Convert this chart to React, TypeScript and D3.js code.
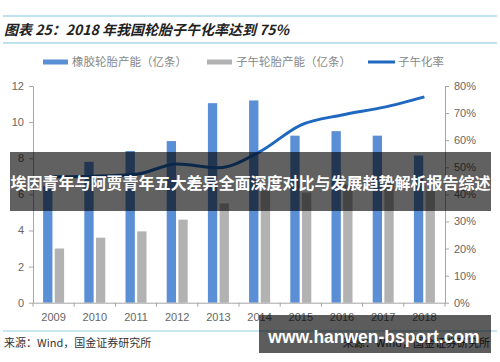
import React, { useEffect, useRef } from "react";
import * as d3 from "d3";

const years = ["2009", "2010", "2011", "2012", "2013", "2014", "2015", "2016", "2017", "2018"];
const capacity = [6.45, 7.8, 8.4, 8.95, 11.05, 11.2, 9.25, 9.5, 9.25, 8.15];
const radialCapacity = [3.0, 3.6, 3.95, 4.6, 5.5, 6.2, 6.1, 6.55, 6.7, 6.2];
const radialRate = [0.465, 0.467, 0.474, 0.512, 0.498, 0.557, 0.656, 0.693, 0.721, 0.76];
const leftTicks = [0, 2, 4, 6, 8, 10, 12];
const rightTicks = [0, 0.1, 0.2, 0.3, 0.4, 0.5, 0.6, 0.7, 0.8];
const legendLabels = ["橡胶轮胎产能（亿条）", "子午轮胎产能（亿条）", "子午化率"];

const App: React.FC = () => {
  const svgRef = useRef<SVGSVGElement>(null);

  useEffect(() => {
    const svg = d3.select(svgRef.current);
    svg.selectAll("*").remove();

    const left = 33;
    const right = 445;
    const top = 86;
    const bottom = 302.7;
    const axisColor = "#a6a6a6";
    const labelColor = "#666";
    const font = "'Liberation Sans', Arial, sans-serif";
    const cjk = "'Noto Sans CJK SC', sans-serif";

    svg.append("rect").attr("width", 500).attr("height", 362).attr("fill", "#fff");

    // 标题 + 上下两条线
    svg.append("line").attr("x1", 3).attr("x2", 497).attr("y1", 16).attr("y2", 16)
      .attr("stroke", "#7fc8dd").attr("stroke-width", 1.2);
    svg.append("line").attr("x1", 3).attr("x2", 497).attr("y1", 43).attr("y2", 43)
      .attr("stroke", "#7fc8dd").attr("stroke-width", 1.2);
    svg.append("text")
      .text("图表 25：2018 年我国轮胎子午化率达到 75%")
      .attr("x", 4).attr("y", 34.5)
      .attr("font-family", cjk).attr("font-size", 14).attr("font-weight", "bold")
      .attr("font-style", "italic").attr("fill", "#222");

    const x = d3.scaleBand().domain(years).range([left, right]);
    const sub = d3.scaleBand().domain(["a", "b"]).range([-10.5, 10.5]).paddingInner(0.2);
    const y = d3.scaleLinear().domain([0, 12]).range([bottom, top]);
    const yr = d3.scaleLinear().domain([0, 0.8]).range([bottom, top]);
    const cx = (d: string) => (x(d) || 0) + x.bandwidth() / 2;

    // 柱子
    years.forEach((yr0, i) => {
      svg.append("rect")
        .attr("x", cx(yr0) + (sub("a") || 0))
        .attr("width", sub.bandwidth())
        .attr("y", y(capacity[i]))
        .attr("height", bottom - y(capacity[i]))
        .attr("fill", "#5a8fd6");
      svg.append("rect")
        .attr("x", cx(yr0) + (sub("b") || 0))
        .attr("width", sub.bandwidth())
        .attr("y", y(radialCapacity[i]))
        .attr("height", bottom - y(radialCapacity[i]))
        .attr("fill", "#b2b2b2");
    });

    // 坐标轴
    const gl = svg.append("g").attr("transform", `translate(${left},0)`)
      .call(d3.axisLeft(y).tickValues(leftTicks).tickSize(4).tickSizeOuter(0).tickPadding(5));
    const gr = svg.append("g").attr("transform", `translate(${right},0)`)
      .call(d3.axisRight(yr).tickValues(rightTicks).tickSize(4).tickSizeOuter(0).tickPadding(5)
        .tickFormat(d3.format(".0%")));
    const gb = svg.append("g").attr("transform", `translate(0,${bottom})`)
      .call(d3.axisBottom(x).tickSize(0).tickSizeOuter(0).tickPadding(11));
    [gl, gr, gb].forEach((g) => {
      g.select(".domain").attr("stroke", axisColor);
      g.selectAll(".tick line").attr("stroke", axisColor);
      g.selectAll(".tick text").attr("fill", labelColor).attr("font-size", 11).attr("font-family", font);
    });
    years.concat(["end"]).forEach((d) => {
      const xx = d === "end" ? right : x(d) || 0;
      svg.append("line").attr("x1", xx).attr("x2", xx).attr("y1", bottom).attr("y2", bottom + 4)
        .attr("stroke", axisColor);
    });

    // 子午化率折线
    const line = d3.line<number>()
      .x((_, i) => cx(years[i]))
      .y((d) => yr(d))
      .curve(d3.curveMonotoneX);
    svg.append("path").datum(radialRate).attr("d", line)
      .attr("fill", "none").attr("stroke", "#1f68c1").attr("stroke-width", 3);

    // 图例
    const lg = svg.append("g").attr("font-family", cjk).attr("font-size", 11.5).attr("fill", "#888");
    lg.append("rect").attr("x", 43).attr("y", 59.5).attr("width", 25).attr("height", 5).attr("fill", "#5a8fd6");
    lg.append("text").text(legendLabels[0]).attr("x", 72).attr("y", 66);
    lg.append("rect").attr("x", 207).attr("y", 59.5).attr("width", 25).attr("height", 5).attr("fill", "#b2b2b2");
    lg.append("text").text(legendLabels[1]).attr("x", 236).attr("y", 66);
    lg.append("line").attr("x1", 368).attr("x2", 395).attr("y1", 62).attr("y2", 62)
      .attr("stroke", "#1f68c1").attr("stroke-width", 3);
    lg.append("text").text(legendLabels[2]).attr("x", 398).attr("y", 66);

    // 底部来源
    svg.append("line").attr("x1", 3).attr("x2", 497).attr("y1", 331).attr("y2", 331)
      .attr("stroke", "#8fd0e2").attr("stroke-width", 1.2);
    svg.append("text").text("来源：Wind，国金证券研究所")
      .attr("x", 4).attr("y", 347).attr("font-family", cjk).attr("font-size", 11).attr("fill", "#333");
    svg.append("text").text("来源：Wind，国金证券研究所")
      .attr("x", 490).attr("y", 347).attr("text-anchor", "end")
      .attr("font-family", cjk).attr("font-size", 11).attr("fill", "#333");

    // 水印横幅
    svg.append("rect").attr("x", 10).attr("y", 152).attr("width", 481).attr("height", 59)
      .attr("fill", "rgba(0,0,0,0.62)");
    svg.append("text").text("埃因青年与阿贾青年五大差异全面深度对比与发展趋势解析报告综述")
      .attr("x", 250.5).attr("y", 189).attr("text-anchor", "middle")
      .attr("font-family", cjk).attr("font-size", 16).attr("font-weight", "bold").attr("fill", "#fff");
    svg.append("rect").attr("x", 259).attr("y", 315).attr("width", 232).attr("height", 38)
      .attr("fill", "rgba(0,0,0,0.64)");
    svg.append("text").text("www.hanwen-bsport.com")
      .attr("x", 374).attr("y", 343).attr("text-anchor", "middle")
      .attr("font-family", font).attr("font-size", 17.5).attr("font-weight", "bold").attr("fill", "#fff");
  }, []);

  return (
    <svg ref={svgRef} width={500} height={362} style={{ position: "absolute", left: 0, top: 0 }}></svg>
  );
};

export default App;
